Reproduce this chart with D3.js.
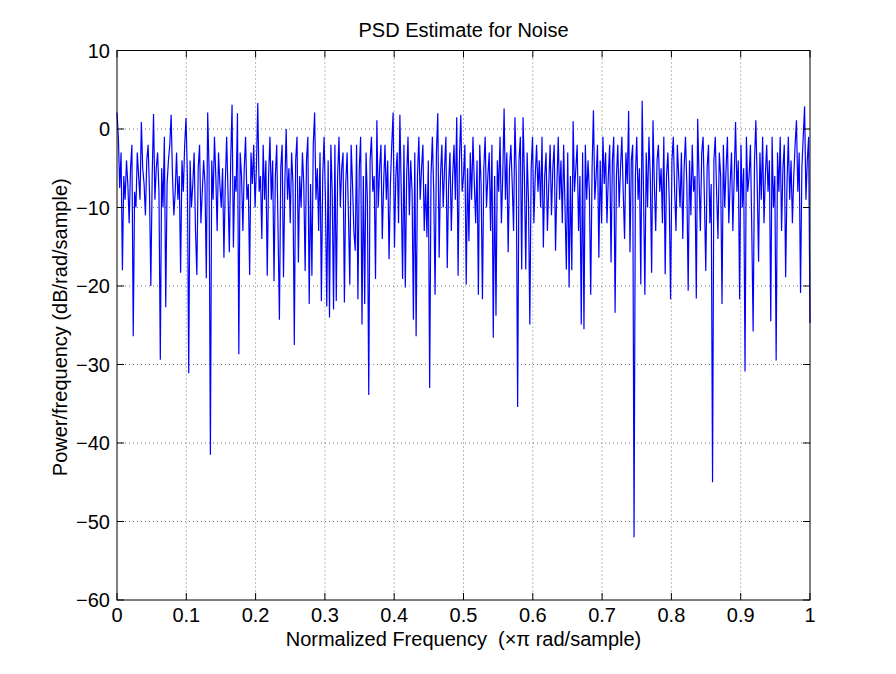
<!DOCTYPE html>
<html><head><meta charset="utf-8">
<script src="https://cdn.jsdelivr.net/npm/d3@7"></script>
<style>body{margin:0;background:#fff}svg{display:block}text{font-family:"Liberation Sans",Arial,Helvetica,sans-serif;white-space:pre}</style>
</head><body>
<svg id="c" width="896" height="674"></svg>
<script>
const title = "PSD Estimate for Noise";
const xLabel = "Normalized Frequency  (\u00d7\u03c0 rad/sample)";
const yLabel = "Power/frequency (dB/rad/sample)";
const xTicks = [0,0.1,0.2,0.3,0.4,0.5,0.6,0.7,0.8,0.9,1];
const yTicks = [10,0,-10,-20,-30,-40,-50,-60];
const psd = [
2.1,-1,-7.5,-3,-18,-6,-9,-4,-7,-12,
-5,-2,-26.4,-8,-10,-3,-6,-9,0.9,-5,
-7,-11,-4,-2,-8,-20,-6,1.9,-9,-5,
-3,-8,-29.4,-5,-10,-1,-22.7,-7,-4,-2,
1.8,-6,-11,-8,-3,-9,-6,-18.3,-4,-8,
-2,1.4,-6,-31.1,-4,-10,-7,-3,-13,-18.6,
-5,-2,-12,-8,-4,-7,-19,2.1,-5,-41.5,
-4,-9,-1,-6,-13,-3,-7,-10,-5,-16.4,
-7,-1,-8,-15.7,-4,3.1,-15.1,-6,-8,2,
-28.7,-3,-6,-13,-5,-1,-9,-7,-18.6,-3,
-7,-2,-10,-5,3.3,-8,-6,-14,-2,-9,
-4,-18.7,-6,-1,-9,-4,-19.4,-6,-2,-13,
-24.3,-5,-2,-18.9,-7,0,-9,-5,-12,-3,
-7,-27.5,-4,-1,-17,-6,-10,-3,-7,-18.1,
-4,-1,-22.3,-7,-18.7,-2,2.1,-9,-5,-13,
-3,-21.9,-6,-1,-9,-22.6,-4,-24,-2,-8,
-23,-2,-21.9,-6,-1,-10,-5,-3,-22.1,-7,
-3,-11,-19.8,-2,-7,-13,-15.5,-2,-21.7,-5,
-1,-24.9,-6,-22.3,-3,-9,-33.9,-4,-1,-8,
-6,-19.1,1.1,-10,-5,-2,-14,-7,-2,-9,
-4,-16.6,-7,-2,2.1,-15.1,-6,-3,-12,1.8,
-8,-19.1,-2,-20.2,-6,-1,-11,-4,-8,-24.3,
-3,-26.4,-6,-1,-9,-5,-2,-13,-7,-13.8,
-4,-33,-6,-1,-8,-21.1,-3,2,-16.4,-6,
-2,-10,-5,-1,-17.7,-7,-3,-13,-6,-2,
-9,1.5,-18.7,-4,1.8,-8,-6,-2,-19.8,-5,
-14.3,-3,-9,-1,-7,-12,-4,-21.1,-2,-7,
-21.7,-5,-1,-10,-6,-3,-13,-2,-26.6,-6,
-23.8,-4,-8,-1,-12,-6,2.6,-9,-3,-15.7,
-5,-2,-7,-13,1.5,-6,-35.4,-4,-1,-17.9,
1.5,-6,-17.9,-3,-9,-24.9,-5,-1,-12,-6,
-2,-8,-4,-10,-1,-15.1,-6,-3,-13,-7,
-2,-11,-5,-2,-15.5,-7,-1,-9,-4,-12,
-2,-10,-17.9,-3,-20.2,-6,-18,1,-8,-5,
-2,-13,-6,-24.9,-3,-25.5,-2,-9,-4,-8,
-21.1,-5,2.4,-9,-6,-2,-16.4,-4,-12,-1,
-7,-3,-12,-6,-2,-17,-4,-1,-23.4,-6,
-2,-10,-5,-1,-8,-14,-3,-7,2.3,-15.7,
-4,-2,-52,-6,-1,-9,-5,-19.8,3.6,-8,
-21.1,-3,-10,-1,-6,-18.3,1.1,-7,-13,-4,
-2,-8,-5,-12,-1,-18.5,-6,-3,-9,-21.7,
-4,-1,-8,-13,-2,-6,-10,-3,-14,-5,
-1,-7,-20.6,-4,-11,-2,-8,-6,-21.6,1.3,
-6,-13,-3,-1,-9,-18.1,-5,-2,-12,-7,
-45,-4,-1,-8,-14,-3,-6,-22.3,-2,-10,
-5,-1,-12,-7,-3,-13,-6,0.9,-8,-4,
-21.7,-2,-10,-5,-30.9,-1,-8,-6,-2,-13,
-25.8,-4,1.1,-7,-16.9,-3,-9,-1,-12,-6,
-2,-8,-4,-24.5,-1,-10,-6,-29.5,-3,-8,
-1,-13,-5,-2,-18.9,-7,-1,-9,-4,-12,
-6,-2,1.1,-8,-3,-20.9,-5,-1,2.9,-9,
-4,-1,-24.7
];

const L=117, R=810, T=50.5, B=600;
const FS = 20;
const svg = d3.select("#c");
const x = d3.scaleLinear().domain([0,1]).range([L,R]);
const y = d3.scaleLinear().domain([-60,10]).range([B,T]);
const n = psd.length;

const g = svg.append("g");
g.selectAll("line.gx").data(xTicks.slice(1,-1)).enter().append("line")
 .attr("x1",d=>x(d)).attr("x2",d=>x(d)).attr("y1",T).attr("y2",B)
 .attr("stroke","#777").attr("stroke-width",1).attr("stroke-dasharray","1,3");
g.selectAll("line.gy").data(yTicks.slice(1,-1)).enter().append("line")
 .attr("x1",L).attr("x2",R).attr("y1",d=>y(d)).attr("y2",d=>y(d))
 .attr("stroke","#777").attr("stroke-width",1).attr("stroke-dasharray","1,3");

const line = d3.line().x((d,i)=>x(i/(n-1))).y(d=>y(d));
svg.append("path").datum(psd).attr("d",line).attr("fill","none")
 .attr("stroke","#0000ff").attr("stroke-width",1.2);

const tl = 7;
const ax = svg.append("g").attr("stroke","#000").attr("stroke-width",1);
ax.append("rect").attr("x",L).attr("y",T).attr("width",R-L).attr("height",B-T).attr("fill","none");
xTicks.forEach(t=>{
  ax.append("line").attr("x1",x(t)).attr("x2",x(t)).attr("y1",B).attr("y2",B-tl);
  ax.append("line").attr("x1",x(t)).attr("x2",x(t)).attr("y1",T).attr("y2",T+tl);
});
yTicks.forEach(t=>{
  ax.append("line").attr("x1",L).attr("x2",L+tl).attr("y1",y(t)).attr("y2",y(t));
  ax.append("line").attr("x1",R).attr("x2",R-tl).attr("y1",y(t)).attr("y2",y(t));
});

const fmtY = d=> d<0 ? "\u2212"+Math.abs(d) : String(d);
svg.selectAll("text.xt").data(xTicks).enter().append("text")
 .attr("x",d=>x(d)).attr("y",622).attr("text-anchor","middle").attr("font-size",FS)
 .text(d=>String(d));
svg.selectAll("text.yt").data(yTicks).enter().append("text")
 .attr("x",110).attr("y",d=>y(d)).attr("dy","0.35em").attr("text-anchor","end").attr("font-size",FS)
 .text(fmtY);

svg.append("text").attr("x",(L+R)/2).attr("y",37).attr("text-anchor","middle").attr("font-size",FS).text(title);
svg.append("text").attr("x",(L+R)/2).attr("y",646).attr("text-anchor","middle").attr("font-size",FS).text(xLabel);
svg.append("text").attr("transform",`translate(67,${(T+B)/2+2}) rotate(-90)`).attr("text-anchor","middle").attr("font-size",FS).text(yLabel);
</script>
</body></html>
